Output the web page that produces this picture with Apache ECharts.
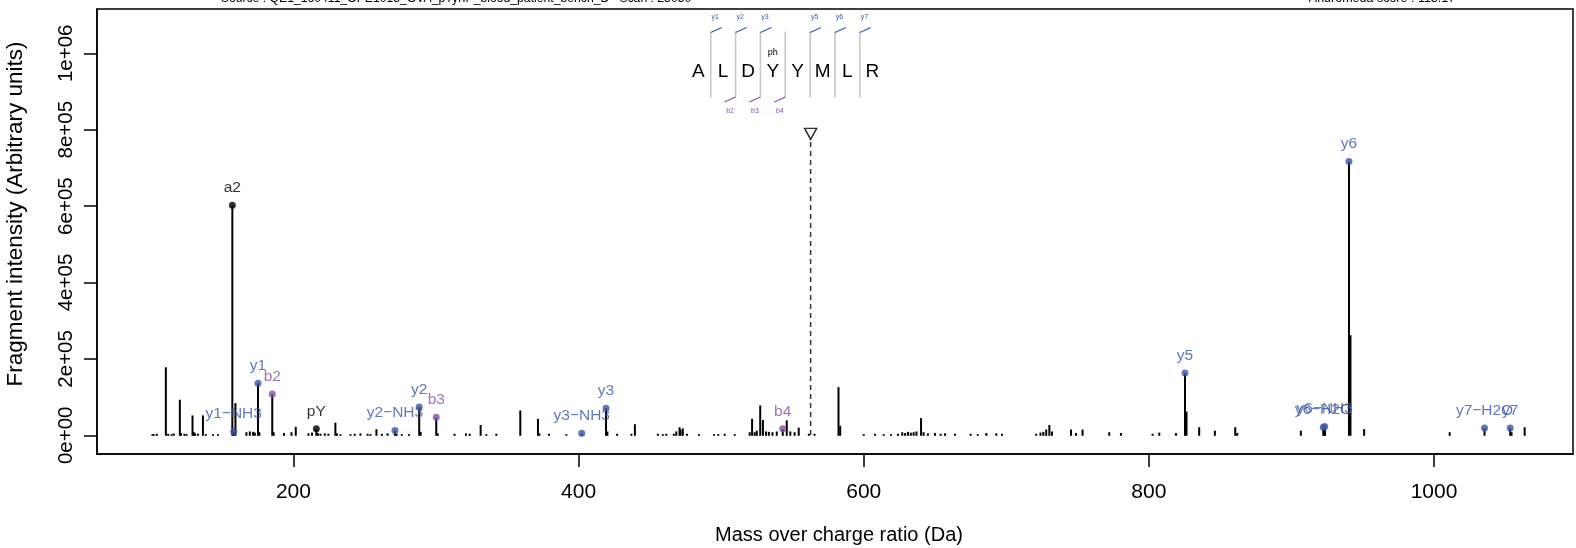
<!DOCTYPE html>
<html>
<head>
<meta charset="utf-8">
<script src="https://cdn.jsdelivr.net/npm/echarts@6/dist/echarts.min.js"></script>
<style>
html,body{margin:0;padding:0;background:#fff;}
#chart{width:1576px;height:548px;}
</style>
</head>
<body>
<div id="chart"></div>
<script>
// ---------- DATA ----------
const xTickValues = [200, 400, 600, 800, 1000];
const xTickLabels = ['200', '400', '600', '800', '1000'];
const yTickValues = [0, 200000, 400000, 600000, 800000, 1000000];
const yTickLabels = ['0e+00', '2e+05', '4e+05', '6e+05', '8e+05', '1e+06'];

// unannotated fragment peaks: m/z and intensity
const peakMz = [101.1,102.1,104.1,110.5,112.1,114.5,116.0,120.3,121.1,123.5,125.0,129.2,130.1,131.0,133.0,136.5,138.5,143.5,147.1,159.3,167.0,169.4,171.7,172.9,176.1,186.1,193.4,198.6,201.6,210.5,213.0,217.1,219.0,222.0,224.5,229.4,230.5,233,240.0,243,247,252,254.0,258.2,262,266,272.3,276,281,289.2,301.2,313,321,323.6,331.3,335.3,342.3,359.1,371.5,372.5,379.2,391.4,420.2,427,437,439.5,455.6,459.1,461.5,466.8,468.5,470.8,471.5,473.1,476,484.5,495,498,502.5,509.5,520,521.7,523.5,525,527.4,529.3,531.5,533.5,536,539,546.0,548.5,551.5,554.4,561.5,565.5,582.3,583.5,600,608,614,619.2,624,627,629,631,633,635,637,640.2,642,645,650,654,657,664,675,680,686,693,697,721,724,726,728,730.2,732,745.4,748.9,753.5,772.2,780.4,802.6,807.3,819,826.4,835.3,846.3,860.6,862,906.6,923.5,941.4,951,1011,1054.4,1063.6];
const peakIntensity = [3000,2500,4000,178000,4000,3000,5000,93000,6000,4000,3000,52000,8000,5000,4000,52000,3000,3000,3000,84000,8000,10000,9000,7000,8000,8000,6000,8000,22000,5000,7000,6000,4000,5000,4000,33000,5000,3000,3000,4000,5000,4000,3000,16000,4000,5000,4000,3000,3000,9000,5000,4000,5000,4000,27000,3000,4000,65000,43000,5000,4000,3000,10000,4000,4000,29000,4000,3000,4000,4000,10000,21000,15000,18000,4000,3000,3000,3000,4000,3000,8000,43000,8000,12000,78000,40000,10000,9000,8000,10000,39000,10000,8000,20000,4000,4000,126000,25000,3000,4000,3000,3000,4000,8000,6000,9000,7000,8000,10000,45000,8000,5000,6000,4000,5000,4000,4000,3000,6000,5000,4000,4000,7000,9000,15000,27000,10000,15000,6000,15000,8000,6000,4000,7000,6000,62000,21000,12000,21000,6000,12000,16000,262000,16000,8000,8000,21000];

// annotated fragment ions
const ionLabels = ['a2','y1\u2212NH3','y1','b2','pY','y2\u2212NH3','y2','b3','y3\u2212NH3','y3','b4','y5','y6\u2212H2O','y6\u2212NH3','y6','y7\u2212H2O','y7'];
const ionMz = [157.13,158.09,175.12,185.13,216.04,271.19,288.20,300.16,402.21,419.24,543.19,825.34,922.35,923.34,940.36,1035.44,1053.45];
const ionIntensity = [602000,10000,136000,108000,17000,12500,74000,47500,5000,71000,17000,163000,21000,23000,717000,19000,19000];
const ionSeries = ['other','y','y','b','other','y','y','b','y','y','b','y','y','y','y','y','y'];

// precursor
const precursorMz = 562.75;
const precursorMark = 789000;

// peptide
const sequence = ['A','L','D','Y','Y','M','L','R'];
const phosphoIndex = 3;
const yIonMarks = ['y1','y2','y3','','y5','y6','y7'];
const bIonMarks = ['','b2','b3','b4','','',''];

const sourceText = 'Source : QE1_160411_OPE1015_OVA_pTyrIP_blood_patient_bench_D   Scan : 25050';
const scoreText = 'Andromeda score : 113.17';
const xTitle = 'Mass over charge ratio (Da)';
const yTitle = 'Fragment intensity (Arbitrary units)';

// ---------- STYLE ----------
const FONT = 'Liberation Sans, Arial, Helvetica, sans-serif';
const colors = { y: '#3A58A8', b: '#8A4FA4', other: '#000000' };

const chart = echarts.init(document.getElementById('chart'), null, { renderer: 'canvas' });

const stemData = peakMz.map((m, i) => [m, peakIntensity[i]]).concat(ionMz.map((m, i) => [m, ionIntensity[i]]));
const ionData = ionMz.map((m, i) => ({
  value: [m, ionIntensity[i]],
  name: ionLabels[i],
  itemStyle: { color: colors[ionSeries[i]] },
  label: { color: colors[ionSeries[i]] }
}));

// peptide annotation graphics
const graphics = [];
const letterX0 = 698.3, letterStep = 24.85, letterY = 72;
sequence.forEach((aa, i) => {
  graphics.push({ type: 'text', x: letterX0 + i * letterStep, y: letterY,
    style: { text: aa, font: '19px ' + FONT, fill: '#000', align: 'center', verticalAlign: 'middle' } });
});
graphics.push({ type: 'text', x: letterX0 + phosphoIndex * letterStep, y: 52.5,
  style: { text: 'ph', font: '9px ' + FONT, fill: '#000', align: 'center', verticalAlign: 'middle' } });
for (let i = 0; i < sequence.length - 1; i++) {
  const sx = letterX0 + (i + 0.5) * letterStep;
  graphics.push({ type: 'line', shape: { x1: sx, y1: 31.5, x2: sx, y2: 97.5 },
    style: { stroke: '#C8C8C8', lineWidth: 1.6 } });
  if (yIonMarks[i]) {
    graphics.push({ type: 'line', shape: { x1: sx, y1: 32.5, x2: sx + 11, y2: 27.5 },
      style: { stroke: colors.y, lineWidth: 1.2 } });
    graphics.push({ type: 'text', x: sx + 4.5, y: 17.5,
      style: { text: yIonMarks[i], font: '7px ' + FONT, fill: colors.y, align: 'center', verticalAlign: 'middle' } });
  }
  if (bIonMarks[i]) {
    graphics.push({ type: 'line', shape: { x1: sx, y1: 97, x2: sx - 11, y2: 102 },
      style: { stroke: colors.b, lineWidth: 1.2 } });
    graphics.push({ type: 'text', x: sx - 5.5, y: 111,
      style: { text: bIonMarks[i], font: '7px ' + FONT, fill: colors.b, align: 'center', verticalAlign: 'middle' } });
  }
}
graphics.push({ type: 'text', x: 456, y: -1.5,
  style: { text: sourceText, font: '12.2px ' + FONT, fill: '#000', align: 'center', verticalAlign: 'middle' } });
graphics.push({ type: 'text', x: 1382, y: -1.5,
  style: { text: scoreText, font: '12.5px ' + FONT, fill: '#000', align: 'center', verticalAlign: 'middle' } });
graphics.push({ type: 'text', x: 16, y: 214, rotation: Math.PI / 2,
  style: { text: yTitle, font: '22.5px ' + FONT, fill: '#000', align: 'center', verticalAlign: 'middle' } });
graphics.push({ type: 'text', x: 839, y: 535,
  style: { text: xTitle, font: '20px ' + FONT, fill: '#000', align: 'center', verticalAlign: 'middle' } });

const option = {
  animation: false,
  backgroundColor: '#fff',
  grid: { left: 97, right: 3, top: 9, bottom: 94, show: true, borderColor: '#000', borderWidth: 1.5, backgroundColor: 'transparent' },
  xAxis: {
    type: 'value', min: 62.2, max: 1097.5,
    axisLine: { show: true, onZero: false, lineStyle: { color: '#000', width: 1.5 } },
    axisTick: { show: true, length: 13, customValues: xTickValues, lineStyle: { color: '#000', width: 1.5 } },
    axisLabel: { show: true, customValues: xTickValues, margin: 28, fontFamily: FONT, fontSize: 21, color: '#000',
      formatter: v => xTickLabels[xTickValues.indexOf(v)] },
    splitLine: { show: false }
  },
  yAxis: {
    type: 'value', min: -49000, max: 1116000,
    axisLine: { show: true, onZero: false, lineStyle: { color: '#000', width: 1.5 } },
    axisTick: { show: true, length: 13, customValues: yTickValues, lineStyle: { color: '#000', width: 1.5 } },
    axisLabel: { show: true, customValues: yTickValues, rotate: 90, margin: 20, fontFamily: FONT, fontSize: 20.5, color: '#000',
      formatter: v => yTickLabels[yTickValues.indexOf(v)] },
    splitLine: { show: false }
  },
  graphic: graphics,
  series: [
    {
      type: 'custom', silent: true, z: 2,
      data: stemData,
      renderItem: (params, api) => {
        const top = api.coord([api.value(0), api.value(1)]);
        const base = api.coord([api.value(0), 0]);
        return { type: 'line', shape: { x1: top[0], y1: top[1], x2: base[0], y2: base[1] + 0.5 },
          style: { stroke: '#000', lineWidth: 2 } };
      }
    },
    {
      type: 'custom', silent: true, z: 2,
      data: [[precursorMz, precursorMark]],
      renderItem: (params, api) => {
        const top = api.coord([api.value(0), api.value(1)]);
        const base = api.coord([api.value(0), 0]);
        return { type: 'line', shape: { x1: top[0], y1: top[1] + 8, x2: base[0], y2: base[1] },
          style: { stroke: '#333', lineWidth: 1.5, lineDash: [5, 4] } };
      }
    },
    {
      type: 'scatter', z: 4,
      data: [[precursorMz, precursorMark]],
      symbol: 'triangle', symbolRotate: 180, symbolSize: [12, 11],
      itemStyle: { color: '#fff', borderColor: '#000', borderWidth: 1.5 }
    },
    {
      type: 'scatter', z: 5,
      data: ionData,
      symbol: 'circle', symbolSize: 7,
      label: { show: true, position: 'top', distance: 6, formatter: p => p.name, fontFamily: FONT, fontSize: 15.5 }
    }
  ]
};
chart.setOption(option);
</script>
</body>
</html>
